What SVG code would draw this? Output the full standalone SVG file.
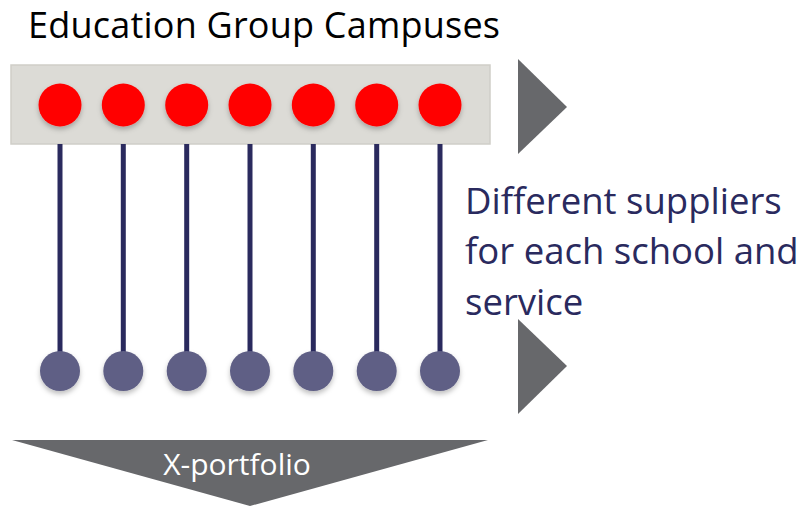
<svg xmlns="http://www.w3.org/2000/svg" width="805" height="507" viewBox="0 0 805 507">
<defs>
<style>
.t{font-family:"Open Sans","Liberation Sans",sans-serif}
.red{fill:#ff0000;filter:url(#sh)}
.blue{fill:#5f5f85;filter:url(#sh)}
.ln{stroke:#2a2a5e;stroke-width:5}
.tri{fill:#67686b}
</style>
<filter id="sh" x="-50%" y="-50%" width="200%" height="200%">
<feDropShadow dx="0" dy="3" stdDeviation="2.5" flood-color="#000" flood-opacity="0.25"/>
</filter>
</defs>
<rect width="805" height="507" fill="#ffffff"/>
<text class="t" x="28" y="38" font-size="36" fill="#000" textLength="472" lengthAdjust="spacing">Education Group Campuses</text>
<g id="campuses">
<rect x="11" y="65" width="479" height="79" fill="#dcdbd6" stroke="#cfcec8" stroke-width="1.5"/>
</g>
<g id="connectors">
<line class="ln" x1="60" y1="144" x2="60" y2="360"/>
<line class="ln" x1="123.3" y1="144" x2="123.3" y2="360"/>
<line class="ln" x1="186.7" y1="144" x2="186.7" y2="360"/>
<line class="ln" x1="250" y1="144" x2="250" y2="360"/>
<line class="ln" x1="313.3" y1="144" x2="313.3" y2="360"/>
<line class="ln" x1="376.7" y1="144" x2="376.7" y2="360"/>
<line class="ln" x1="440" y1="144" x2="440" y2="360"/>
</g>
<g id="campus-nodes">
<circle class="red" cx="60" cy="105" r="21.5"/>
<circle class="red" cx="123.3" cy="105" r="21.5"/>
<circle class="red" cx="186.7" cy="105" r="21.5"/>
<circle class="red" cx="250" cy="105" r="21.5"/>
<circle class="red" cx="313.3" cy="105" r="21.5"/>
<circle class="red" cx="376.7" cy="105" r="21.5"/>
<circle class="red" cx="440" cy="105" r="21.5"/>
</g>
<g id="supplier-nodes">
<circle class="blue" cx="60" cy="371" r="20"/>
<circle class="blue" cx="123.3" cy="371" r="20"/>
<circle class="blue" cx="186.7" cy="371" r="20"/>
<circle class="blue" cx="250" cy="371" r="20"/>
<circle class="blue" cx="313.3" cy="371" r="20"/>
<circle class="blue" cx="376.7" cy="371" r="20"/>
<circle class="blue" cx="440" cy="371" r="20"/>
</g>
<g id="arrow-top"><polygon class="tri" points="518,59 567,107 518,154"/></g>
<g id="arrow-bottom"><polygon class="tri" points="518,319 567,366 518,414"/></g>
<g id="label">
<text class="t" font-size="36.5" fill="#2a2a5e">
<tspan x="465" y="214">Different suppliers</tspan>
<tspan x="465" y="264">for each school and</tspan>
<tspan x="465" y="315">service</tspan>
</text>
</g>
<g id="portfolio">
<polygon class="tri" points="12,440 488,440 250,506"/>
<text class="t" x="237" y="475" font-size="30" fill="#ffffff" text-anchor="middle">X-portfolio</text>
</g>
</svg>
